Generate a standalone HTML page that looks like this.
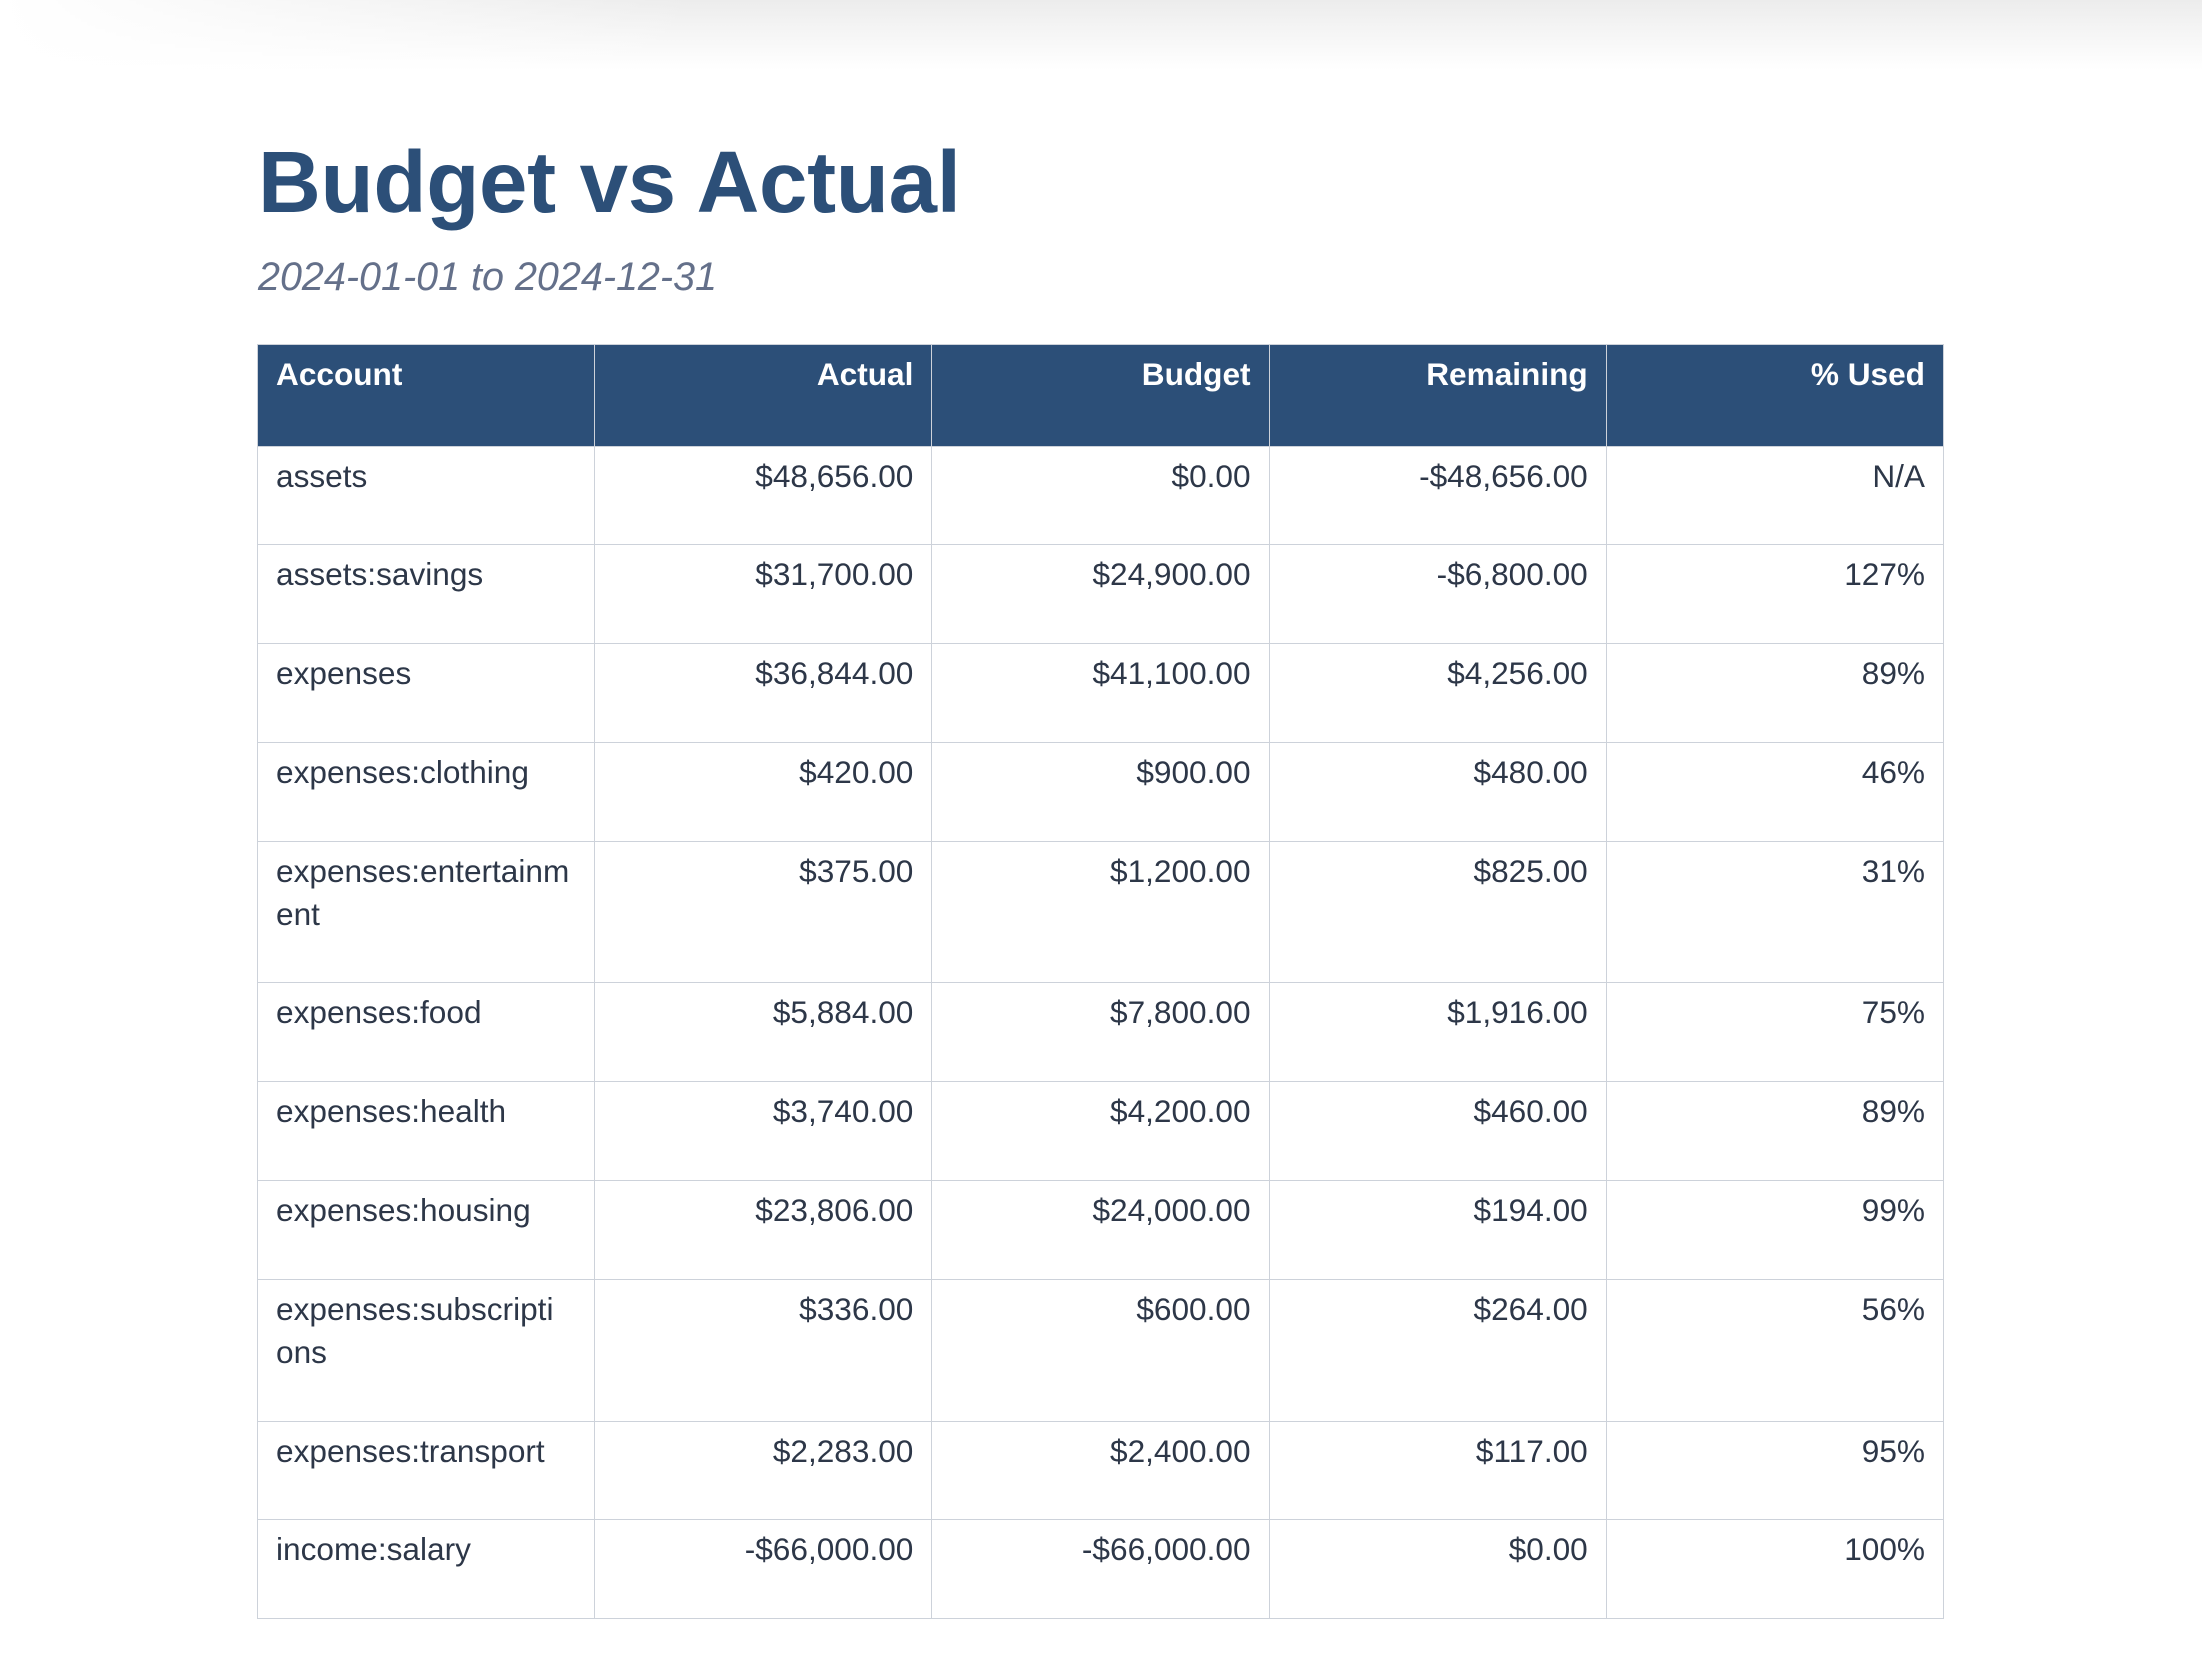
<!DOCTYPE html>
<html><head><meta charset="utf-8">
<style>
html,body{margin:0;padding:0;background:#fff;}
body{width:2202px;height:1680px;position:relative;overflow:hidden;font-family:"Liberation Sans",sans-serif;}
.shade{position:absolute;left:0;top:0;width:2202px;height:70px;background:linear-gradient(to bottom,#ececec 0%,#f6f6f6 50%,#fff 100%);}
.shade2{position:absolute;left:0;top:0;width:700px;height:70px;background:linear-gradient(to right,#fff,rgba(255,255,255,0));}
h1{position:absolute;left:258px;top:128px;margin:0;font-size:87px;font-weight:bold;color:#2c4f78;line-height:110px;letter-spacing:-0.3px;}
.sub{position:absolute;left:258px;top:252px;margin:0;font-size:39.5px;font-style:italic;color:#64708a;line-height:50px;}
table{position:absolute;left:257px;top:344px;width:1687px;border-collapse:collapse;table-layout:fixed;}
td,th{border:1.5px solid #cdd2da;font-size:31.6px;line-height:43px;padding:8px 18px 46.8px;vertical-align:top;color:#2d3748;white-space:nowrap;}
th{background:#2c4f78;color:#fff;font-weight:bold;padding-bottom:49.5px;}
.l{text-align:left}.r{text-align:right}
</style></head><body>
<div class="shade"></div>
<div class="shade2"></div>
<h1>Budget vs Actual</h1>
<p class="sub">2024-01-01 to 2024-12-31</p>
<table>
<thead><tr>
<th class="l">Account</th>
<th class="r">Actual</th>
<th class="r">Budget</th>
<th class="r">Remaining</th>
<th class="r">% Used</th>
</tr></thead>
<tbody id="tb"></tbody>
</table>
<script>
const accounts=["assets","assets:savings","expenses","expenses:clothing","expenses:entertainm<br>ent","expenses:food","expenses:health","expenses:housing","expenses:subscripti<br>ons","expenses:transport","income:salary"];
const actuals=["$48,656.00","$31,700.00","$36,844.00","$420.00","$375.00","$5,884.00","$3,740.00","$23,806.00","$336.00","$2,283.00","-$66,000.00"];
const budgets=["$0.00","$24,900.00","$41,100.00","$900.00","$1,200.00","$7,800.00","$4,200.00","$24,000.00","$600.00","$2,400.00","-$66,000.00"];
const remaining=["-$48,656.00","-$6,800.00","$4,256.00","$480.00","$825.00","$1,916.00","$460.00","$194.00","$264.00","$117.00","$0.00"];
const used=["N/A","127%","89%","46%","31%","75%","89%","99%","56%","95%","100%"];
const tb=document.getElementById('tb');
for(let i=0;i<accounts.length;i++){
  const tr=document.createElement('tr');
  
  
  const cells=[[accounts[i],'l','account-cell'],[actuals[i],'r','actual-cell'],[budgets[i],'r','budget-cell'],[remaining[i],'r','remaining-cell'],[used[i],'r','used-cell']];
  for(const c of cells){
    const td=document.createElement('td');
    td.className=c[1];
    td.innerHTML=c[0];
    
    
    tr.appendChild(td);
  }
  tb.appendChild(tr);
}
</script>
</body></html>
